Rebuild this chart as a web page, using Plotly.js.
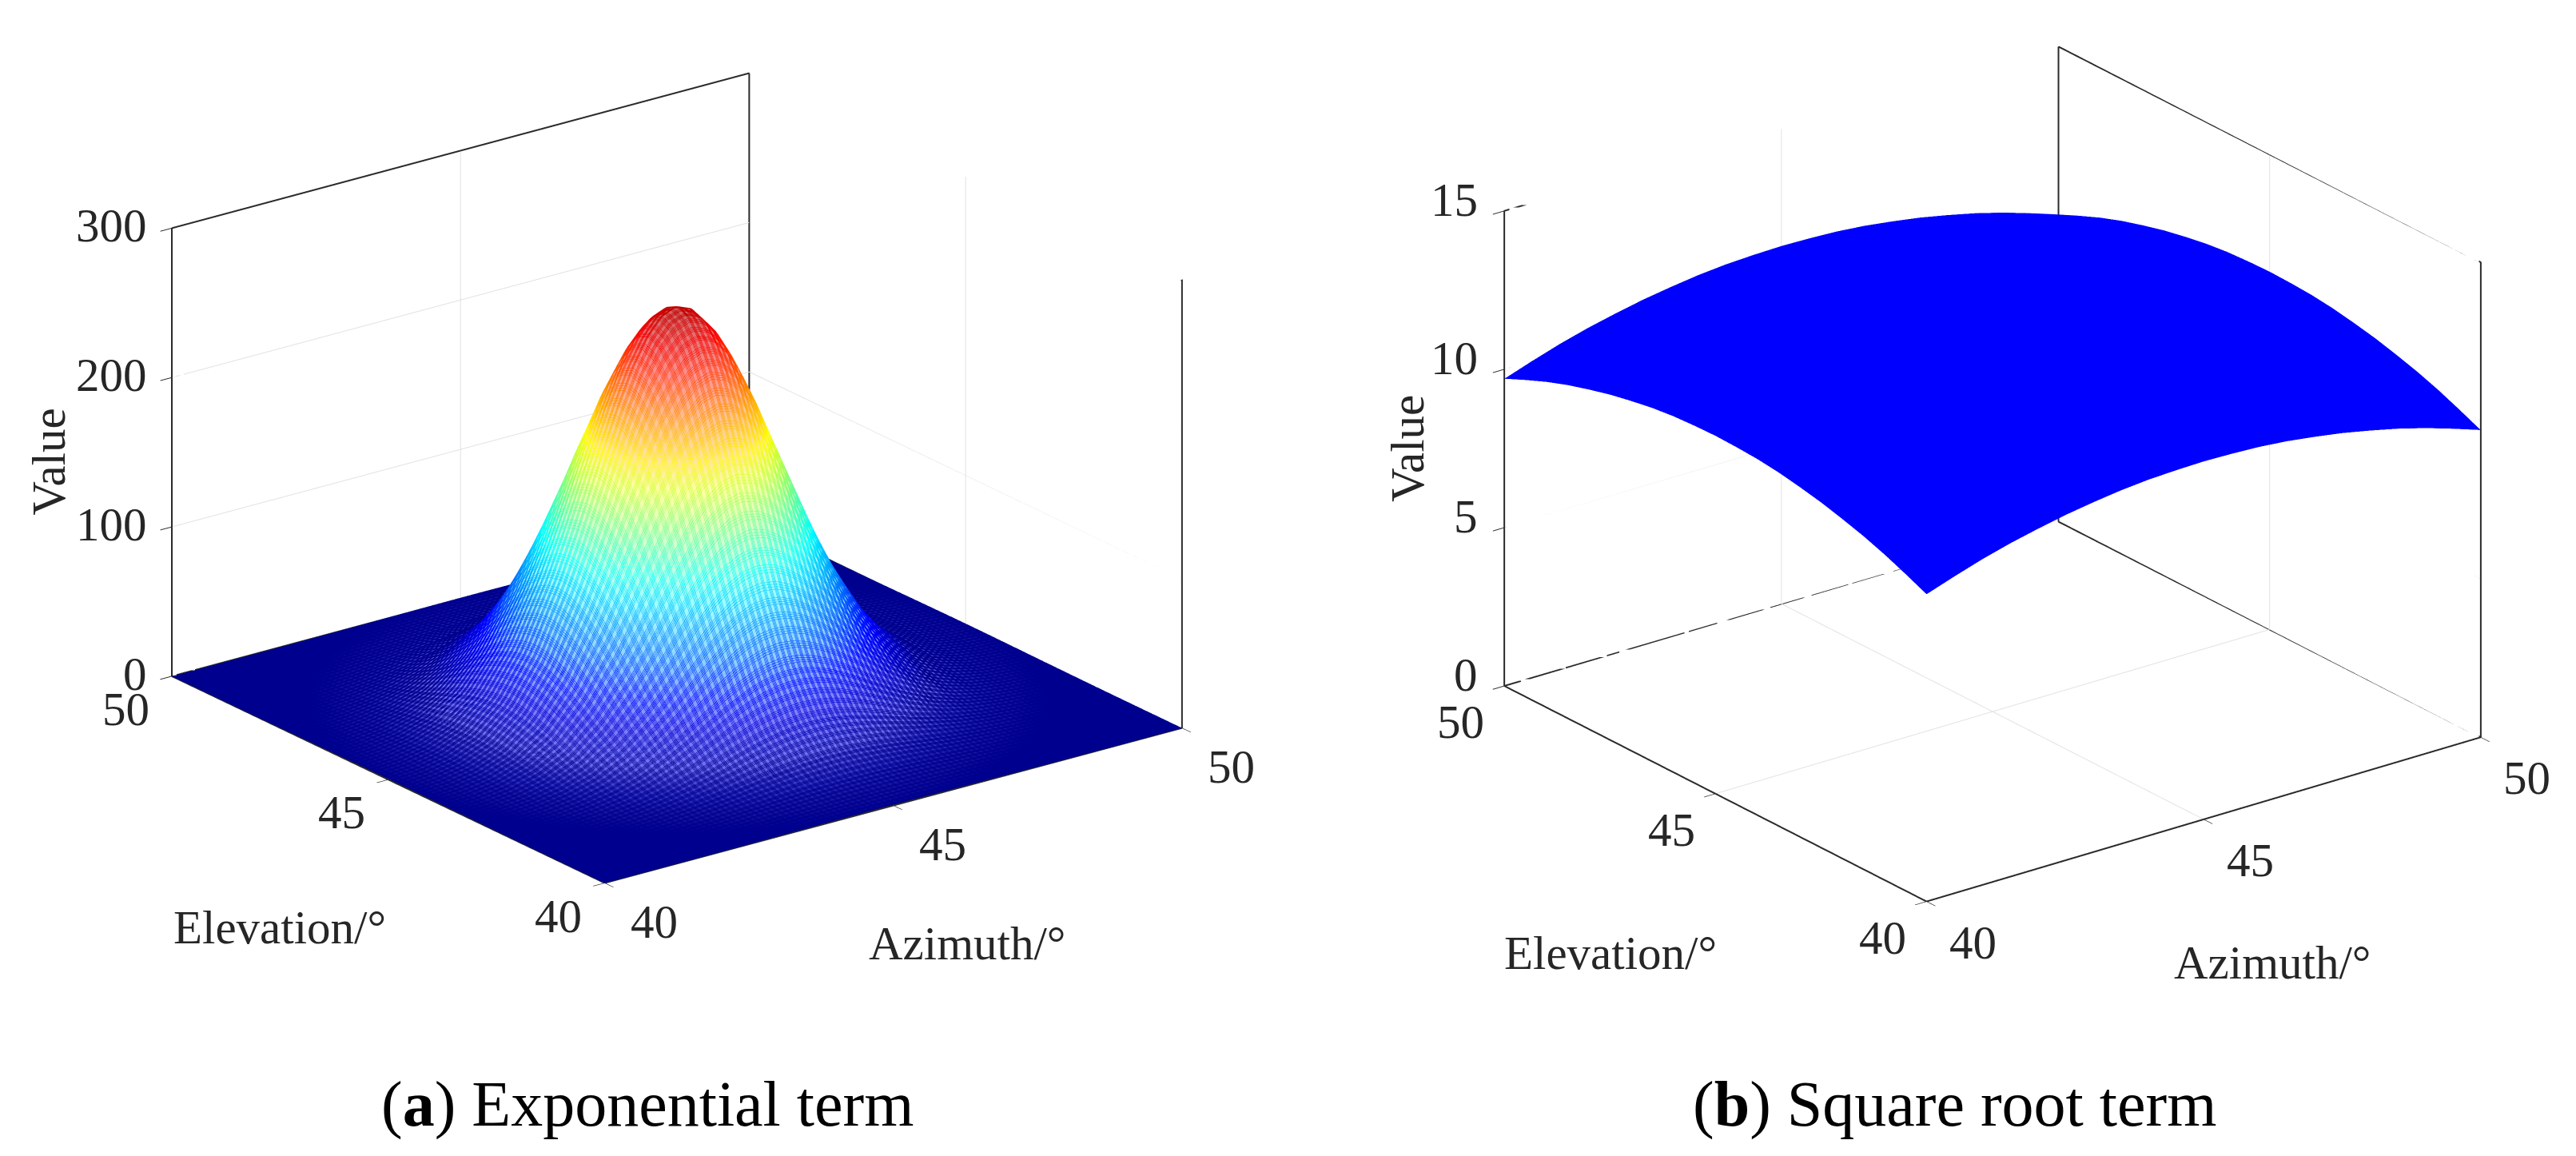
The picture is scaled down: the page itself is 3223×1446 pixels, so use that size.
<!DOCTYPE html>
<html><head><meta charset="utf-8">
<script src="https://cdn.plot.ly/plotly-3.0.1.min.js"></script>
<style>html,body{margin:0;padding:0;background:#fff}#c{width:3223px;height:1446px}</style>
</head><body><div id="c"></div>
<script>
const azimuthA=[40,40.5,41,41.5,42,42.5,43,43.25,43.5,43.75,44,44.25,44.5,44.75,45,45.25,45.5,45.75,46,46.25,46.5,46.75,47,47.5,48,48.5,49,49.5,50];
const elevationA=[40,40.5,41,41.5,42,42.5,43,43.25,43.5,43.75,44,44.25,44.5,44.75,45,45.25,45.5,45.75,46,46.25,46.5,46.75,47,47.5,48,48.5,49,49.5,50];
const valueA=[
[0,.01,.02,.04,.08,.16,.27,.33,.40,.48,.54,.60,.65,.68,.69,.68,.65,.60,.54,.48,.40,.33,.27,.16,.08,.04,.02,.01,0],
[.01,.02,.05,.11,.25,.48,.82,1.02,1.24,1.46,1.67,1.86,2,2.09,2.12,2.09,2,1.86,1.67,1.46,1.24,1.02,.82,.48,.25,.11,.05,.02,.01],
[.02,.05,.13,.31,.68,1.32,2.25,2.81,3.41,4.02,4.59,5.1,5.49,5.74,5.83,5.74,5.49,5.1,4.59,4.02,3.41,2.81,2.25,1.32,.68,.31,.13,.05,.02],
[.04,.11,.31,.77,1.67,3.23,5.52,6.89,8.37,9.85,11.3,12.5,13.5,14.1,14.3,14.1,13.5,12.5,11.3,9.85,8.37,6.89,5.52,3.23,1.67,.77,.31,.11,.04],
[.08,.25,.68,1.67,3.63,7,12,14.9,18.1,21.4,24.4,27.1,29.2,30.5,31,30.5,29.2,27.1,24.4,21.4,18.1,14.9,12,7,3.63,1.67,.68,.25,.08],
[.16,.48,1.32,3.23,7,13.5,23.1,28.9,35,41.3,47.2,52.4,56.4,59,59.9,59,56.4,52.4,47.2,41.3,35,28.9,23.1,13.5,7,3.23,1.32,.48,.16],
[.27,.82,2.25,5.52,12,23.1,39.5,49.3,59.8,70.5,80.6,89.5,96.4,100.8,102.3,100.8,96.4,89.5,80.6,70.5,59.8,49.3,39.5,23.1,12,5.52,2.25,.82,.27],
[.33,1.02,2.81,6.89,14.9,28.9,49.3,61.6,74.7,88,100.6,111.7,120.3,125.8,127.7,125.8,120.3,111.7,100.6,88,74.7,61.6,49.3,28.9,14.9,6.89,2.81,1.02,.33],
[.40,1.24,3.41,8.37,18.1,35,59.8,74.7,90.7,106.8,122.1,135.6,146,152.7,155,152.7,146,135.6,122.1,106.8,90.7,74.7,59.8,35,18.1,8.37,3.41,1.24,.40],
[.48,1.46,4.02,9.85,21.4,41.3,70.5,88,106.8,125.8,143.9,159.8,172,179.9,182.6,179.9,172,159.8,143.9,125.8,106.8,88,70.5,41.3,21.4,9.85,4.02,1.46,.48],
[.54,1.67,4.59,11.3,24.4,47.2,80.6,100.6,122.1,143.9,164.5,182.7,196.7,205.7,208.8,205.7,196.7,182.7,164.5,143.9,122.1,100.6,80.6,47.2,24.4,11.3,4.59,1.67,.54],
[.60,1.86,5.1,12.5,27.1,52.4,89.5,111.7,135.6,159.8,182.7,202.9,218.5,228.4,231.9,228.4,218.5,202.9,182.7,159.8,135.6,111.7,89.5,52.4,27.1,12.5,5.1,1.86,.60],
[.65,2,5.49,13.5,29.2,56.4,96.4,120.3,146,172,196.7,218.5,235.1,245.9,249.6,245.9,235.1,218.5,196.7,172,146,120.3,96.4,56.4,29.2,13.5,5.49,2,.65],
[.68,2.09,5.74,14.1,30.5,59,100.8,125.8,152.7,179.9,205.7,228.4,245.9,257.1,261,257.1,245.9,228.4,205.7,179.9,152.7,125.8,100.8,59,30.5,14.1,5.74,2.09,.68],
[.69,2.12,5.83,14.3,31,59.9,102.3,127.7,155,182.6,208.8,231.9,249.6,261,265,261,249.6,231.9,208.8,182.6,155,127.7,102.3,59.9,31,14.3,5.83,2.12,.69],
[.68,2.09,5.74,14.1,30.5,59,100.8,125.8,152.7,179.9,205.7,228.4,245.9,257.1,261,257.1,245.9,228.4,205.7,179.9,152.7,125.8,100.8,59,30.5,14.1,5.74,2.09,.68],
[.65,2,5.49,13.5,29.2,56.4,96.4,120.3,146,172,196.7,218.5,235.1,245.9,249.6,245.9,235.1,218.5,196.7,172,146,120.3,96.4,56.4,29.2,13.5,5.49,2,.65],
[.60,1.86,5.1,12.5,27.1,52.4,89.5,111.7,135.6,159.8,182.7,202.9,218.5,228.4,231.9,228.4,218.5,202.9,182.7,159.8,135.6,111.7,89.5,52.4,27.1,12.5,5.1,1.86,.60],
[.54,1.67,4.59,11.3,24.4,47.2,80.6,100.6,122.1,143.9,164.5,182.7,196.7,205.7,208.8,205.7,196.7,182.7,164.5,143.9,122.1,100.6,80.6,47.2,24.4,11.3,4.59,1.67,.54],
[.48,1.46,4.02,9.85,21.4,41.3,70.5,88,106.8,125.8,143.9,159.8,172,179.9,182.6,179.9,172,159.8,143.9,125.8,106.8,88,70.5,41.3,21.4,9.85,4.02,1.46,.48],
[.40,1.24,3.41,8.37,18.1,35,59.8,74.7,90.7,106.8,122.1,135.6,146,152.7,155,152.7,146,135.6,122.1,106.8,90.7,74.7,59.8,35,18.1,8.37,3.41,1.24,.40],
[.33,1.02,2.81,6.89,14.9,28.9,49.3,61.6,74.7,88,100.6,111.7,120.3,125.8,127.7,125.8,120.3,111.7,100.6,88,74.7,61.6,49.3,28.9,14.9,6.89,2.81,1.02,.33],
[.27,.82,2.25,5.52,12,23.1,39.5,49.3,59.8,70.5,80.6,89.5,96.4,100.8,102.3,100.8,96.4,89.5,80.6,70.5,59.8,49.3,39.5,23.1,12,5.52,2.25,.82,.27],
[.16,.48,1.32,3.23,7,13.5,23.1,28.9,35,41.3,47.2,52.4,56.4,59,59.9,59,56.4,52.4,47.2,41.3,35,28.9,23.1,13.5,7,3.23,1.32,.48,.16],
[.08,.25,.68,1.67,3.63,7,12,14.9,18.1,21.4,24.4,27.1,29.2,30.5,31,30.5,29.2,27.1,24.4,21.4,18.1,14.9,12,7,3.63,1.67,.68,.25,.08],
[.04,.11,.31,.77,1.67,3.23,5.52,6.89,8.37,9.85,11.3,12.5,13.5,14.1,14.3,14.1,13.5,12.5,11.3,9.85,8.37,6.89,5.52,3.23,1.67,.77,.31,.11,.04],
[.02,.05,.13,.31,.68,1.32,2.25,2.81,3.41,4.02,4.59,5.1,5.49,5.74,5.83,5.74,5.49,5.1,4.59,4.02,3.41,2.81,2.25,1.32,.68,.31,.13,.05,.02],
[.01,.02,.05,.11,.25,.48,.82,1.02,1.24,1.46,1.67,1.86,2,2.09,2.12,2.09,2,1.86,1.67,1.46,1.24,1.02,.82,.48,.25,.11,.05,.02,.01],
[0,.01,.02,.04,.08,.16,.27,.33,.40,.48,.54,.60,.65,.68,.69,.68,.65,.60,.54,.48,.40,.33,.27,.16,.08,.04,.02,.01,0]];
const azimuthB=[40,40.5,41,41.5,42,42.5,43,43.5,44,44.5,45,45.5,46,46.5,47,47.5,48,48.5,49,49.5,50];
const elevationB=[40,40.5,41,41.5,42,42.5,43,43.5,44,44.5,45,45.5,46,46.5,47,47.5,48,48.5,49,49.5,50];
const valueB=[
[9.70,10.00,10.28,10.52,10.72,10.90,11.04,11.16,11.24,11.28,11.30,11.28,11.24,11.16,11.04,10.90,10.72,10.52,10.28,10.00,9.70],
[10.00,10.31,10.58,10.82,11.03,11.20,11.35,11.46,11.54,11.59,11.60,11.59,11.54,11.46,11.35,11.20,11.03,10.82,10.58,10.31,10.00],
[10.28,10.58,10.85,11.09,11.30,11.48,11.62,11.73,11.81,11.86,11.88,11.86,11.81,11.73,11.62,11.48,11.30,11.09,10.85,10.58,10.28],
[10.52,10.82,11.09,11.33,11.54,11.72,11.86,11.97,12.05,12.10,12.12,12.10,12.05,11.97,11.86,11.72,11.54,11.33,11.09,10.82,10.52],
[10.72,11.03,11.30,11.54,11.75,11.92,12.07,12.18,12.26,12.31,12.32,12.31,12.26,12.18,12.07,11.92,11.75,11.54,11.30,11.03,10.72],
[10.90,11.20,11.48,11.72,11.92,12.10,12.24,12.36,12.44,12.48,12.50,12.48,12.44,12.36,12.24,12.10,11.92,11.72,11.48,11.20,10.90],
[11.04,11.35,11.62,11.86,12.07,12.24,12.39,12.50,12.58,12.63,12.64,12.63,12.58,12.50,12.39,12.24,12.07,11.86,11.62,11.35,11.04],
[11.16,11.46,11.73,11.97,12.18,12.36,12.50,12.61,12.69,12.74,12.76,12.74,12.69,12.61,12.50,12.36,12.18,11.97,11.73,11.46,11.16],
[11.24,11.54,11.81,12.05,12.26,12.44,12.58,12.69,12.77,12.82,12.84,12.82,12.77,12.69,12.58,12.44,12.26,12.05,11.81,11.54,11.24],
[11.28,11.59,11.86,12.10,12.31,12.48,12.63,12.74,12.82,12.87,12.88,12.87,12.82,12.74,12.63,12.48,12.31,12.10,11.86,11.59,11.28],
[11.30,11.60,11.88,12.12,12.32,12.50,12.64,12.76,12.84,12.88,12.90,12.88,12.84,12.76,12.64,12.50,12.32,12.12,11.88,11.60,11.30],
[11.28,11.59,11.86,12.10,12.31,12.48,12.63,12.74,12.82,12.87,12.88,12.87,12.82,12.74,12.63,12.48,12.31,12.10,11.86,11.59,11.28],
[11.24,11.54,11.81,12.05,12.26,12.44,12.58,12.69,12.77,12.82,12.84,12.82,12.77,12.69,12.58,12.44,12.26,12.05,11.81,11.54,11.24],
[11.16,11.46,11.73,11.97,12.18,12.36,12.50,12.61,12.69,12.74,12.76,12.74,12.69,12.61,12.50,12.36,12.18,11.97,11.73,11.46,11.16],
[11.04,11.35,11.62,11.86,12.07,12.24,12.39,12.50,12.58,12.63,12.64,12.63,12.58,12.50,12.39,12.24,12.07,11.86,11.62,11.35,11.04],
[10.90,11.20,11.48,11.72,11.92,12.10,12.24,12.36,12.44,12.48,12.50,12.48,12.44,12.36,12.24,12.10,11.92,11.72,11.48,11.20,10.90],
[10.72,11.03,11.30,11.54,11.75,11.92,12.07,12.18,12.26,12.31,12.32,12.31,12.26,12.18,12.07,11.92,11.75,11.54,11.30,11.03,10.72],
[10.52,10.82,11.09,11.33,11.54,11.72,11.86,11.97,12.05,12.10,12.12,12.10,12.05,11.97,11.86,11.72,11.54,11.33,11.09,10.82,10.52],
[10.28,10.58,10.85,11.09,11.30,11.48,11.62,11.73,11.81,11.86,11.88,11.86,11.81,11.73,11.62,11.48,11.30,11.09,10.85,10.58,10.28],
[10.00,10.31,10.58,10.82,11.03,11.20,11.35,11.46,11.54,11.59,11.60,11.59,11.54,11.46,11.35,11.20,11.03,10.82,10.58,10.31,10.00],
[9.70,10.00,10.28,10.52,10.72,10.90,11.04,11.16,11.24,11.28,11.30,11.28,11.24,11.16,11.04,10.90,10.72,10.52,10.28,10.00,9.70]];
const angleTicks=[40,45,50];
const valueTicksA=[0,100,200,300];
const valueTicksB=[0,5,10,15];
const captionA='(<b>a</b>) Exponential term';
const captionB='(<b>b</b>) Square root term';
const jet=[[0,'#00008F'],[.125,'#0000FF'],[.375,'#00FFFF'],[.625,'#FFFF00'],[.875,'#FF0000'],[1,'#800000']];
const fillMesh=[[0,'#00008F'],[.004,'#14149C'],[.02,'#3030C0'],[.06,'#7070F0'],[.125,'#8080FF'],[.25,'#90D0FF'],[.375,'#A0FFFF'],[.5,'#CFFFCF'],[.625,'#FFFFA0'],[.75,'#FFD090'],[.875,'#FF9090'],[1,'#D06060']];
const blue=[[0,'#0000FF'],[1,'#0000FF']];
const serif='"Liberation Serif","Times New Roman",serif';
const ink='#2a2a2a';
const meshOffsets=[0,.015,.03,.045];

function meshTrace(off){
  const c={show:true,start:40+off,end:50.01,size:.1,usecolormap:true,width:4,highlight:false};
  return {type:'surface',scene:'scene',x:azimuthA,y:elevationA,z:valueA,colorscale:jet,cmin:0,cmax:265,showscale:false,hidesurface:true,hoverinfo:'skip',
    contours:{x:c,y:c,z:{show:false,highlight:false}}};
}
function poly(scene,X,Y,Z,color,width){
  return {type:'scatter3d',mode:'lines',scene,x:X,y:Y,z:Z,line:{color,width},hoverinfo:'skip',showlegend:false};
}
function boxTraces(scene,t){
  const a=40,b=50;
  return [
    poly(scene,[a,a,a,b,b,b,a],[a,b,b,b,a,a,a],[0,0,t,t,t,0,0],ink,4),
    poly(scene,[a,b,b],[b,b,a],[0,0,0],ink,4),
    poly(scene,[b,b],[b,b],[0,t],ink,4)
  ];
}
function gridTraces(scene,zt){
  const a=40,b=50,t=zt[zt.length-1],out=[];
  const seg=(x1,y1,z1,x2,y2,z2)=>out.push(poly(scene,[x1,x2],[y1,y2],[z1,z2],'#e2e2e2',2));
  angleTicks.slice(1,-1).forEach(v=>{
    seg(v,b,0,v,b,t); seg(b,v,0,b,v,t); seg(v,a,0,v,b,0); seg(a,v,0,b,v,0);
  });
  zt.slice(1,-1).forEach(v=>{ seg(a,b,v,b,b,v); seg(b,a,v,b,b,v); });
  return out;
}
function axis(vals,rng){
  return {range:rng,tickvals:vals,ticktext:vals.map(String),showticklabels:false,title:{text:''},
    showgrid:false,zeroline:false,showbackground:false,showline:false,
    ticks:'outside',ticklen:18,tickcolor:ink,tickwidth:2,showspikes:false};
}
function note(x,y,z,text,xs,ys,extra){
  return Object.assign({x,y,z,text,showarrow:false,xshift:xs,yshift:ys,font:{family:serif,size:59,color:'#262626'}},extra||{});
}
function annos(zt,p){
  const a=[];
  zt.forEach(v=>a.push(note(40,50,v,String(v),p.z[0],p.z[1],{xanchor:'right'})));
  angleTicks.forEach(v=>a.push(note(v,40,0,String(v),p.x[0],p.x[1])));
  angleTicks.forEach(v=>a.push(note(40,v,0,String(v),p.y[0],p.y[1])));
  a.push(note(45,40,0,'Azimuth/°',p.ax[0],p.ax[1]));
  a.push(note(40,45,0,'Elevation/°',p.el[0],p.el[1]));
  a.push(note(40,50,zt[zt.length-1]/2,'Value',p.v[0],p.v[1],{textangle:-90}));
  return a;
}
const traces=[
 ...gridTraces('scene',valueTicksA),
 ...boxTraces('scene',300),
 {type:'surface',scene:'scene',x:azimuthA,y:elevationA,z:valueA,colorscale:fillMesh,cmin:0,cmax:265,showscale:false,
  lighting:{ambient:1,diffuse:0,specular:0,roughness:1,fresnel:0},hoverinfo:'skip'},
 ...meshOffsets.map(meshTrace),
 ...gridTraces('scene2',valueTicksB),
 ...boxTraces('scene2',15),
 {type:'surface',scene:'scene2',x:azimuthB,y:elevationB,z:valueB,colorscale:blue,showscale:false,
  lighting:{ambient:1,diffuse:0,specular:0,roughness:1,fresnel:0},hoverinfo:'skip'}
];
const layout={
 width:3223,height:1446,margin:{l:0,r:0,t:0,b:0},paper_bgcolor:'#fff',showlegend:false,
 scene:{domain:{x:[47/3223,1647/3223],y:[1-1190/1446,1-6/1446]},
  xaxis:axis(angleTicks,[40,50]),yaxis:axis(angleTicks,[40,50]),zaxis:axis(valueTicksA,[0,300]),
  aspectmode:'manual',aspectratio:{x:1.525,y:1.525,z:1.014},
  camera:{projection:{type:'orthographic'},center:{x:0,y:0,z:0},up:{x:0,y:0,z:1},eye:{x:-1.12,y:-1.494,z:.716}},
  annotations:annos(valueTicksA,{z:[-29,3],x:[62,-48],y:[-58,-41],ax:[92,-172],el:[-136,-185],v:[-154,-12]})},
 scene2:{domain:{x:[1793/3223,3193/3223],y:[1-1182/1446,1-4/1446]},
  xaxis:axis(angleTicks,[40,50]),yaxis:axis(angleTicks,[40,50]),zaxis:axis(valueTicksB,[0,15]),
  aspectmode:'manual',aspectratio:{x:1.48,y:1.48,z:1.095},
  camera:{projection:{type:'orthographic'},center:{x:0,y:0,z:0},up:{x:0,y:0,z:1},eye:{x:-1.12,y:-1.47,z:.78}},
  annotations:annos(valueTicksB,{z:[-31,14],x:[58,-51],y:[-55,-45],ax:[86,-179],el:[-131,-199],v:[-121,0]})},
 annotations:[
  {xref:'paper',yref:'paper',x:810/3223,y:1-1381/1446,xanchor:'center',yanchor:'middle',text:captionA,showarrow:false,font:{family:serif,size:80,color:'#000'}},
  {xref:'paper',yref:'paper',x:2445/3223,y:1-1381/1446,xanchor:'center',yanchor:'middle',text:captionB,showarrow:false,font:{family:serif,size:80,color:'#000'}}
 ]
};
Plotly.newPlot('c',traces,layout,{displayModeBar:false});
</script></body></html>
